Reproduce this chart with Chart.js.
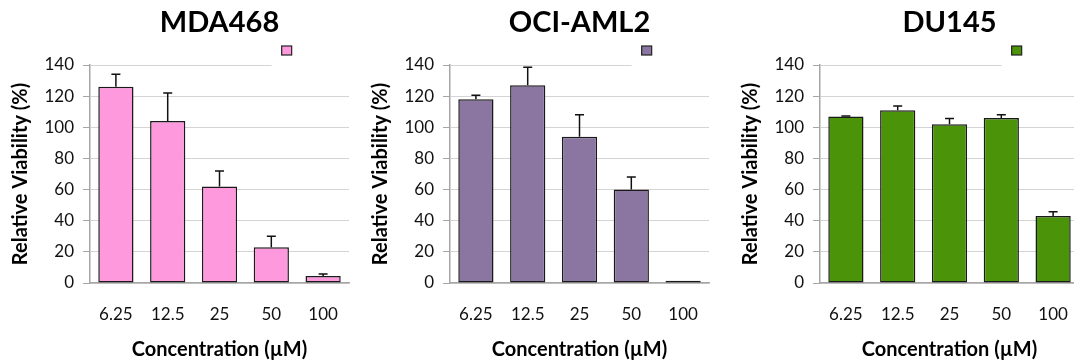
<!DOCTYPE html>
<html>
<head>
<meta charset="utf-8">
<script src="https://cdn.jsdelivr.net/npm/chart.js@4.4.1/dist/chart.umd.min.js"></script>
<style>
  body { margin: 0; width: 1074px; height: 362px; overflow: hidden; background: #fff; position: relative; }
  .panel { position: absolute; top: 0; width: 360px; height: 362px; }
</style>
</head>
<body>
<div class="panel" style="left:0"><canvas id="c1" width="360" height="362"></canvas></div>
<div class="panel" style="left:360px"><canvas id="c2" width="360" height="362"></canvas></div>
<div class="panel" style="left:730px"><canvas id="c3" width="360" height="362"></canvas></div>
<script>
// concentrations (uM) and y ticks shared by all three panels
var concentrations = ['6.25', '12.5', '25', '50', '100'];
var yTicks = [0, 20, 40, 60, 80, 100, 120, 140];

// relative viability (%) and upper error bars
var mda468 = [126, 104, 62, 23, 4.5];
var mda468Err = [8, 18, 10, 7, 1.3];
var ociAml2 = [118, 127, 94, 60, 1.5];
var ociAml2Err = [2.5, 11.5, 14, 8, 0];
var du145 = [107, 111, 102, 106, 43];
var du145Err = [0.3, 2.6, 3.7, 2, 2.8];

var font = 'Lato';

// upward-only error bars with a short cap
var errorBars = {
  id: 'errorBars',
  afterDatasetsDraw: function(chart) {
    var ctx = chart.ctx, y = chart.scales.y;
    chart.data.datasets.forEach(function(ds, di) {
      chart.getDatasetMeta(di).data.forEach(function(bar, i) {
        var err = ds.errors[i];
        if (!err) return;
        var top = y.getPixelForValue(ds.data[i] + err);
        ctx.save();
        ctx.strokeStyle = '#111';
        ctx.lineWidth = 1.5;
        ctx.beginPath();
        ctx.moveTo(bar.x, bar.y);
        ctx.lineTo(bar.x, top);
        ctx.moveTo(bar.x - 4.5, top);
        ctx.lineTo(bar.x + 4.5, top);
        ctx.stroke();
        ctx.restore();
      });
    });
  }
};

// excel style legend: white box over the top gridline with one colour square
var boxLegend = {
  id: 'boxLegend',
  beforeDatasetsDraw: function(chart) {
    var ctx = chart.ctx, a = chart.chartArea;
    var sx = a.left + (a.right - a.left) * 0.74;
    var sy = a.top - 19;
    ctx.save();
    ctx.fillStyle = '#fff';
    ctx.fillRect(sx - 10, a.top - 26, chart.width - sx + 10, 28);
    ctx.fillStyle = chart.data.datasets[0].backgroundColor;
    ctx.strokeStyle = '#222';
    ctx.lineWidth = 1.2;
    ctx.fillRect(sx, sy, 10, 9);
    ctx.strokeRect(sx, sy, 10, 9);
    ctx.restore();
  }
};

function makeChart(id, title, values, errors, color) {
  var ctx = document.getElementById(id).getContext('2d');
  return new Chart(ctx, {
    type: 'bar',
    data: {
      labels: concentrations,
      datasets: [{
        label: '',
        data: values,
        errors: errors,
        backgroundColor: color,
        borderColor: '#1a1a1a',
        borderWidth: 1.5,
        borderSkipped: false,
        barPercentage: 0.68,
        categoryPercentage: 1
      }]
    },
    options: {
      responsive: false,
      animation: false,
      devicePixelRatio: 1,
      layout: { padding: { left: 0, right: 4, top: 0, bottom: 0 } },
      plugins: {
        legend: { display: false },
        tooltip: { enabled: false },
        title: {
          display: true,
          text: title,
          fullSize: false,
          color: '#000',
          font: { family: font, size: 29, weight: 'bold' },
          padding: { top: 5, bottom: 25.2 }
        }
      },
      scales: {
        x: {
          grid: { display: false, drawTicks: false },
          border: { color: '#a6a6a6', width: 1.5 },
          ticks: { color: '#111', font: { family: font, size: 17 }, padding: 21 },
          title: {
            display: true,
            text: 'Concentration (µM)',
            color: '#000',
            font: { family: font, size: 20, weight: 'bold' },
            padding: { top: 0, bottom: 0 }
          },
          afterFit: function(s) { s.height = 79; }
        },
        y: {
          min: 0,
          max: 140,
          afterBuildTicks: function(s) { s.ticks = yTicks.map(function(v) { return { value: v }; }); },
          grid: { color: '#d4d4d4', tickLength: 7, tickColor: '#a6a6a6' },
          border: { color: '#a6a6a6', width: 1.5 },
          ticks: { color: '#111', font: { family: font, size: 17 }, padding: 9 },
          title: {
            display: true,
            text: 'Relative Viability (%)',
            color: '#000',
            font: { family: font, size: 20, weight: 'bold' },
            padding: { top: 9, bottom: 0 }
          },
          afterFit: function(s) { s.width = 90; }
        }
      }
    },
    plugins: [boxLegend, errorBars]
  });
}

makeChart('c1', 'MDA468', mda468, mda468Err, '#ff99dd');
makeChart('c2', 'OCI-AML2', ociAml2, ociAml2Err, '#8b76a1');
makeChart('c3', 'DU145', du145, du145Err, '#4b940a');
</script>
</body>
</html>
